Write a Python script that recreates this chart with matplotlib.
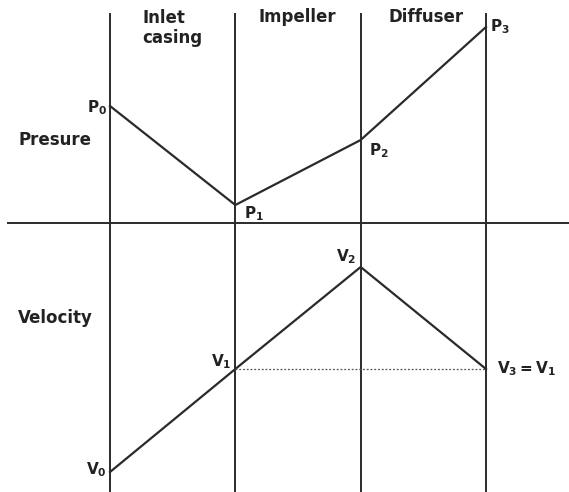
import matplotlib.pyplot as plt

# stations: inlet, impeller inlet, impeller outlet, diffuser outlet
stations = [0, 1, 2, 3]
pressure = [117, 18, 83, 196]     # height above the centre line
velocity = [20, 123, 225, 123]    # height above the bottom edge
p_labels = [r'$\mathbf{P_0}$', r'$\mathbf{P_1}$', r'$\mathbf{P_2}$', r'$\mathbf{P_3}$']
v_labels = [r'$\mathbf{V_0}$', r'$\mathbf{V_1}$', r'$\mathbf{V_2}$', r'$\mathbf{V_3 = V_1}$']
sections = ['Inlet\ncasing', 'Impeller', 'Diffuser']

plt.rcParams['mathtext.fontset'] = 'dejavusans'
W, H = 569, 492
fig = plt.figure(figsize=(W / 100, H / 100), dpi=100)

px = 125.33  # pixels per station
xl = (-110 / px, 3 + (W - 486) / px)
ax_p = fig.add_axes([0, (H - 223) / H, 1, 223 / H])
ax_v = fig.add_axes([0, 0, 1, (H - 223) / H])
for a in (ax_p, ax_v):
    a.set_xlim(*xl)
    a.axis('off')
ax_p.set_ylim(0, 223)
ax_v.set_ylim(0, H - 223)

lc = '#2a2a2a'
for s in stations:
    ax_p.plot([s, s], [0, 210], color=lc, lw=1.4, solid_capstyle='butt')
    ax_v.plot([s, s], [0, H - 223], color=lc, lw=1.4, solid_capstyle='butt')
ax_p.plot([(8 - 110) / px, xl[1]], [0, 0], color=lc, lw=1.4, clip_on=False)

ax_p.plot(stations, pressure, color=lc, lw=1.6)
ax_v.plot(stations, velocity, color=lc, lw=1.6)
ax_v.plot([stations[1], stations[3]], [velocity[1], velocity[3]],
          color='#555555', lw=0.9, ls=(0, (1.5, 1.5)))

p_off = [(-3, -2, 'right'), (9, -9, 'left'), (8, -11, 'left'), (4, 0, 'left')]
v_off = [(-3, 2, 'right'), (-4, 7, 'right'), (-4, 10, 'right'), (11, 0, 'left')]
for s, y, t, (dx, dy, ha) in zip(stations, pressure, p_labels, p_off):
    ax_p.annotate(t, (s, y), xytext=(dx, dy), textcoords='offset pixels',
                  ha=ha, va='center', fontsize=11, color='#222222')
for s, y, t, (dx, dy, ha) in zip(stations, velocity, v_labels, v_off):
    ax_v.annotate(t, (s, y), xytext=(dx, dy), textcoords='offset pixels',
                  ha=ha, va='center', fontsize=11, color='#222222')

fk = dict(fontsize=12, fontweight='bold', color='#222222')
fig.text(142 / W, 1 - 28 / H, sections[0], ha='left', va='center',
         linespacing=1.2, **fk)
fig.text(297 / W, 1 - 17 / H, sections[1], ha='center', va='center', **fk)
fig.text(426 / W, 1 - 17 / H, sections[2], ha='center', va='center', **fk)
fig.text(18 / W, 1 - 140 / H, 'Presure', ha='left', va='center', **fk)
fig.text(18 / W, 1 - 318 / H, 'Velocity', ha='left', va='center', **fk)

fig.savefig('out.png', dpi=100)
